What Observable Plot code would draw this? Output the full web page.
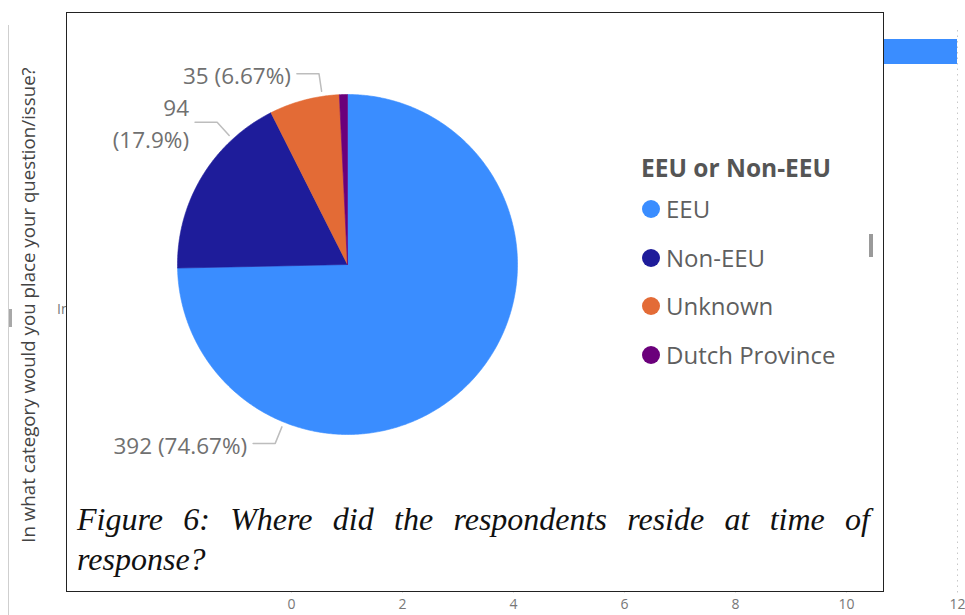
<!DOCTYPE html>
<html><head><meta charset="utf-8">
<script src="https://cdn.jsdelivr.net/npm/d3@7"></script>
<script src="https://cdn.jsdelivr.net/npm/@observablehq/plot@0.6"></script>
<style>
html,body{margin:0;padding:0;background:#fff;}
#root{position:relative;width:965px;height:615px;overflow:hidden;font-family:"Open Sans",sans-serif;}
.abs{position:absolute;}
</style></head><body><div id="root"></div>
<script>
// ---- data ----
const categories = ["EEU", "Non-EEU", "Unknown", "Dutch Province"];
const counts = [392, 94, 35, 4];
const colors = ["#3A8DFF", "#1E1C9A", "#E36B36", "#6B007B"];
const legendTitle = "EEU or Non-EEU";
const captionText = "Figure 6: Where did the respondents reside at time of response?";
// background (partly hidden) bar chart
const bgCategories = ["Category"];
const bgValues = [12];
const bgTicks = [0, 2, 4, 6, 8, 10, 12];
const bgAxisTitle = "In what category would you place your question/issue?";

// ---- layout config (not data) ----
const labelLayout = {
  "EEU": {angle: 202, wrap: false},
  "Non-EEU": {angle: 317.5, wrap: true},
  "Unknown": {angle: 351.5, wrap: false}
};

const root = document.getElementById("root");
function addDiv(css, html) {
  const d = document.createElement("div");
  d.className = "abs";
  d.style.cssText = css;
  if (html !== undefined) d.innerHTML = html;
  root.appendChild(d);
  return d;
}

// ---- background chart ----
const bgData = bgCategories.map((c, i) => ({c, v: bgValues[i]}));
const bg = Plot.plot({
  width: 965, height: 615,
  marginTop: 30, marginBottom: 19, marginLeft: 291, marginRight: 8,
  style: {background: "transparent", fontFamily: "Open Sans", fontSize: "14px", color: "#777"},
  x: {domain: [0, 12], range: [291, 957], ticks: bgTicks, tickSize: 0, tickPadding: 3, label: null},
  y: {type: "band", domain: bgCategories, range: [39, 64], padding: 0, axis: null},
  marks: [
    Plot.ruleX(bgTicks, {stroke: "#c8c8c8", strokeDasharray: "1.5,4"}),
    Plot.barX(bgData, {x: "v", y: "c", fill: colors[0]})
  ]
});
bg.style.position = "absolute"; bg.style.left = "0px"; bg.style.top = "0px";
root.appendChild(bg);

// background decorations
addDiv("left:8px;top:25px;width:1px;height:590px;background:#cfcfcf;");
addDiv("left:9px;top:309px;width:3px;height:18px;background:#a8a8a8;");
addDiv("left:57px;top:299px;font-size:14px;color:#777;white-space:nowrap;", "In");
addDiv("left:27px;top:305px;font-size:18.7px;color:#444;white-space:nowrap;transform:translate(-50%,-50%) rotate(-90deg);transform-origin:center;", bgAxisTitle);

// ---- foreground box ----
addDiv("left:66px;top:12px;width:818px;height:580px;box-sizing:border-box;border:1px solid #222;background:#fff;");
addDiv("left:869px;top:234px;width:4px;height:23px;background:#9a9a9a;");

// ---- pie ----
const data = categories.map((cat, i) => ({cat, count: counts[i], color: colors[i]}));
const total = d3.sum(counts);
const arcs = d3.pie().sort(null).value(d => d.count).startAngle(0).endAngle(2 * Math.PI)(data);
const sliceMarks = arcs.map(a => {
  const pts = [{x: 0, y: 0}];
  const n = Math.max(2, Math.ceil((a.endAngle - a.startAngle) / (Math.PI / 360)));
  for (let k = 0; k <= n; k++) {
    const t = a.startAngle + (a.endAngle - a.startAngle) * k / n;
    pts.push({x: Math.sin(t), y: Math.cos(t)});
  }
  pts.push({x: 0, y: 0});
  return Plot.line(pts, {x: "x", y: "y", fill: a.data.color, stroke: a.data.color, strokeWidth: 0.6});
});

const fmtPct = v => String(parseFloat((v * 100).toFixed(2)));
const leaderMarks = [];
const labelRows = [];
data.forEach(d => {
  const L = labelLayout[d.cat];
  if (!L) return;
  const t = L.angle * Math.PI / 180;
  const p0 = {x: 1.03 * Math.sin(t), y: 1.03 * Math.cos(t)};
  const p1 = {x: 1.135 * Math.sin(t), y: 1.135 * Math.cos(t)};
  const p2 = {x: p1.x - 0.13, y: p1.y};
  leaderMarks.push(Plot.line([p0, p1, p2], {x: "x", y: "y", stroke: "#bdbdbd", strokeWidth: 1.5}));
  const txt = `${d.count}${L.wrap ? "\n" : " "}(${fmtPct(d.count / total)}%)`;
  labelRows.push({x: p2.x - 0.035, y: p2.y, text: txt});
});

const piePlot = Plot.plot({
  width: 965, height: 615,
  style: {background: "transparent", overflow: "visible"},
  x: {domain: [-1, 1], range: [177, 517], axis: null},
  y: {domain: [-1, 1], range: [434, 94], axis: null},
  marks: [
    ...sliceMarks,
    ...leaderMarks,
    Plot.text(labelRows, {x: "x", y: "y", text: "text", textAnchor: "end", lineAnchor: "middle",
      fontSize: 22.5, lineHeight: 1.42, fill: "#707070", fontFamily: "Open Sans"})
  ]
});
piePlot.style.position = "absolute"; piePlot.style.left = "0px"; piePlot.style.top = "0px";
root.appendChild(piePlot);

// ---- legend ----
addDiv("left:641px;top:151px;font-size:24.5px;font-weight:700;color:#555;white-space:nowrap;line-height:34px;", legendTitle);
data.forEach((d, i) => {
  const cy = 209 + i * 48.7;
  addDiv(`left:642px;top:${cy - 9}px;width:18px;height:18px;border-radius:50%;background:${d.color};`);
  addDiv(`left:666px;top:${cy - 17}px;font-size:24px;color:#5f5f5f;white-space:nowrap;line-height:33px;`, d.cat);
});

// ---- caption ----
addDiv("left:77px;top:499px;width:793px;font-family:'Liberation Serif','Times New Roman',serif;font-style:italic;font-size:32px;line-height:40px;color:#111;text-align:justify;", captionText);
</script>
</body></html>
